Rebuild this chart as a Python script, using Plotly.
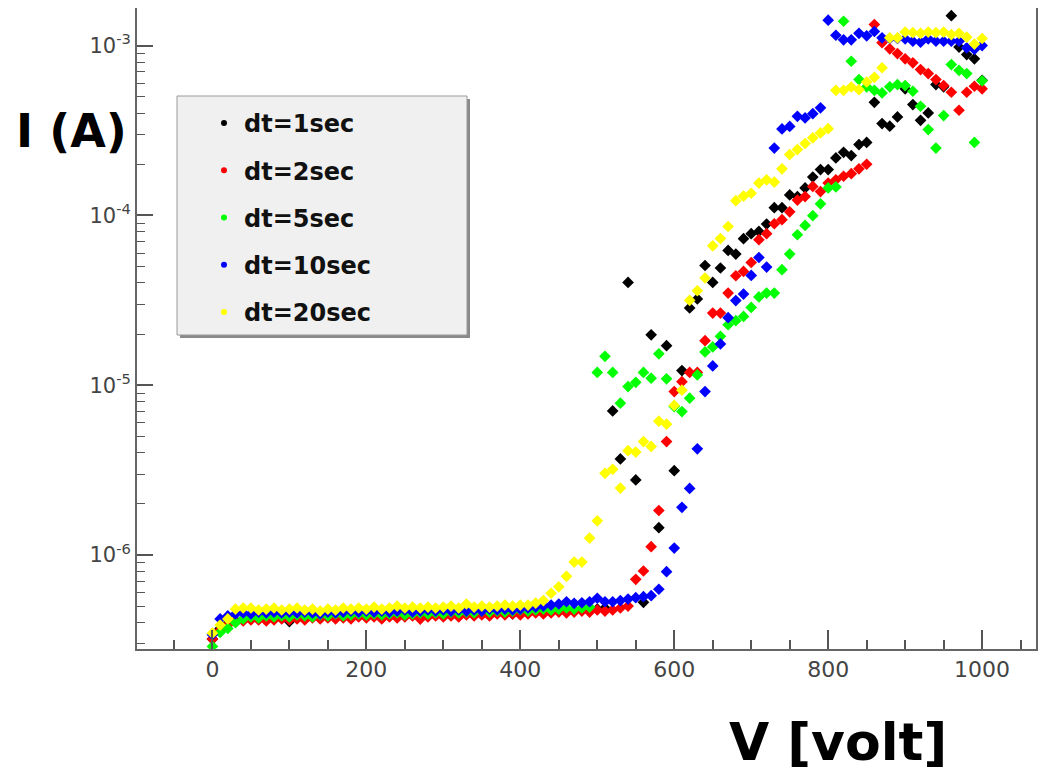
import plotly.graph_objects as go

voltage = list(range(0, 1001, 10))

i_dt1 = [3.2e-7, 3.7e-7, 3.95e-7, 4.1e-7, 4.21e-7, 4.32e-7, 4.26e-7, 4.38e-7, 4.32e-7, 4.26e-7,
         4.06e-7, 4.32e-7, 4.24e-7, 4.38e-7, 4.32e-7, 4.38e-7, 4.44e-7, 4.32e-7, 4.38e-7, 4.44e-7,
         4.38e-7, 4.44e-7, 4.5e-7, 4.38e-7, 4.5e-7, 4.44e-7, 4.5e-7, 4.44e-7, 4.5e-7, 4.56e-7,
         4.44e-7, 4.56e-7, 4.5e-7, 4.56e-7, 4.62e-7, 4.5e-7, 4.62e-7, 4.56e-7, 4.62e-7, 4.5e-7,
         4.56e-7, 4.62e-7, 4.68e-7, 4.62e-7, 4.68e-7, 4.75e-7, 4.68e-7, 4.75e-7, 4.81e-7, 4.75e-7,
         4.81e-7, 4.88e-7, 7.06e-6, 3.68e-6, 4.03e-5, 2.77e-6, 5.27e-7, 1.98e-5, 1.45e-6, 1.71e-5,
         3.14e-6, 1.22e-5, 2.85e-5, 3.22e-5, 5.07e-5, 4.03e-5, 4.9e-5, 6.22e-5, 5.92e-5, 7.29e-5,
         7.8e-5, 8.04e-5, 8.89e-5, 1.11e-4, 1.11e-4, 1.32e-4, 1.29e-4, 1.45e-4, 1.68e-4, 1.86e-4,
         1.86e-4, 2.18e-4, 2.35e-4, 2.25e-4, 2.61e-4, 2.69e-4, 4.63e-4, 3.47e-4, 3.35e-4, 3.8e-4,
         5.56e-4, 4.49e-4, 3.63e-4, 4.01e-4, 5.89e-4, 5.71e-4, 1.5e-3, 9.8e-4, 8.85e-4, 8.35e-4,
         6.24e-4]

i_dt2 = [3.2e-7, 3.61e-7, 3.87e-7, 4.04e-7, 4.09e-7, 4.15e-7, 4.15e-7, 4.09e-7, 4.15e-7, 4.21e-7,
         4.15e-7, 4.21e-7, 4.15e-7, 4.26e-7, 4.21e-7, 4.26e-7, 4.21e-7, 4.26e-7, 4.21e-7, 4.32e-7,
         4.26e-7, 4.32e-7, 4.21e-7, 4.32e-7, 4.26e-7, 4.32e-7, 4.38e-7, 4.2e-7, 4.32e-7, 4.38e-7,
         4.32e-7, 4.38e-7, 4.32e-7, 4.44e-7, 4.38e-7, 4.44e-7, 4.38e-7, 4.5e-7, 4.44e-7, 4.5e-7,
         4.44e-7, 4.5e-7, 4.56e-7, 4.5e-7, 4.56e-7, 4.62e-7, 4.56e-7, 4.62e-7, 4.68e-7, 4.62e-7,
         4.75e-7, 4.68e-7, 4.75e-7, 4.88e-7, 5.01e-7, 7.2e-7, 8.06e-7, 1.12e-6, 1.83e-6, 4.66e-6,
         9.18e-6, 1.05e-5, 1.19e-5, 1.19e-5, 1.83e-5, 2.66e-5, 2.66e-5, 3.49e-5, 4.41e-5, 4.68e-5,
         5.28e-5, 7.19e-5, 7.8e-5, 8.93e-5, 9.43e-5, 1.05e-4, 1.23e-4, 1.29e-4, 1.48e-4, 1.38e-4,
         1.55e-4, 1.62e-4, 1.7e-4, 1.76e-4, 1.88e-4, 2.0e-4, 1.33e-3, 1.04e-3, 9.56e-4, 8.97e-4,
         8.35e-4, 7.91e-4, 7.22e-4, 6.84e-4, 6.3e-4, 5.81e-4, 5.31e-4, 4.16e-4, 5.31e-4, 5.76e-4,
         5.56e-4]

i_dt5 = [2.9e-7, 3.5e-7, 3.7e-7, 4.0e-7, 4.21e-7, 4.32e-7, 4.26e-7, 4.38e-7, 4.32e-7, 4.38e-7,
         4.32e-7, 4.44e-7, 4.38e-7, 4.32e-7, 4.44e-7, 4.38e-7, 4.5e-7, 4.38e-7, 4.44e-7, 4.5e-7,
         4.44e-7, 4.5e-7, 4.44e-7, 4.5e-7, 4.56e-7, 4.44e-7, 4.5e-7, 4.56e-7, 4.5e-7, 4.56e-7,
         4.5e-7, 4.62e-7, 4.56e-7, 4.62e-7, 4.56e-7, 4.68e-7, 4.62e-7, 4.68e-7, 4.62e-7, 4.68e-7,
         4.75e-7, 4.68e-7, 4.75e-7, 4.81e-7, 4.75e-7, 4.81e-7, 4.88e-7, 4.81e-7, 4.88e-7, 4.94e-7,
         1.19e-5, 1.48e-5, 1.19e-5, 7.84e-6, 9.82e-6, 1.04e-5, 1.19e-5, 1.1e-5, 1.53e-5, 1.09e-5,
         7.49e-6, 7.0e-6, 8.39e-6, 1.15e-5, 1.57e-5, 1.68e-5, 1.94e-5, 2.27e-5, 2.4e-5, 2.54e-5,
         2.87e-5, 3.31e-5, 3.49e-5, 3.49e-5, 4.79e-5, 5.92e-5, 7.69e-5, 8.73e-5, 9.96e-5, 1.17e-4,
         1.45e-4, 1.47e-4, 1.39e-3, 8.08e-4, 6.3e-4, 5.71e-4, 5.45e-4, 5.26e-4, 5.71e-4, 5.89e-4,
         5.81e-4, 5.38e-4, 4.39e-4, 3.2e-4, 2.49e-4, 3.87e-4, 7.73e-4, 7.15e-4, 6.84e-4, 2.69e-4,
         6.2e-4]

i_dt10 = [3.4e-7, 4.21e-7, 4.38e-7, 4.5e-7, 4.56e-7, 4.5e-7, 4.62e-7, 4.56e-7, 4.62e-7, 4.56e-7,
          4.62e-7, 4.56e-7, 4.62e-7, 4.56e-7, 4.5e-7, 4.62e-7, 4.56e-7, 4.62e-7, 4.68e-7, 4.62e-7,
          4.68e-7, 4.62e-7, 4.68e-7, 4.62e-7, 4.68e-7, 4.75e-7, 4.62e-7, 4.68e-7, 4.75e-7, 4.68e-7,
          4.75e-7, 4.68e-7, 4.75e-7, 4.68e-7, 4.75e-7, 4.68e-7, 4.81e-7, 4.75e-7, 4.81e-7, 4.75e-7,
          4.81e-7, 4.88e-7, 4.94e-7, 5.01e-7, 5.08e-7, 5.15e-7, 5.31e-7, 5.2e-7, 5.24e-7, 5.31e-7,
          5.57e-7, 5.31e-7, 5.31e-7, 5.4e-7, 5.51e-7, 5.61e-7, 5.69e-7, 5.77e-7, 6.29e-7, 7.98e-7,
          1.1e-6, 1.91e-6, 2.47e-6, 4.22e-6, 9.18e-6, 1.3e-5, 1.75e-5, 2.5e-5, 3.15e-5, 3.44e-5,
          4.43e-5, 5.65e-5, 4.96e-5, 2.49e-4, 3.23e-4, 3.34e-4, 3.83e-4, 3.75e-4, 3.97e-4, 4.3e-4,
          1.41e-3, 1.15e-3, 1.08e-3, 1.08e-3, 1.18e-3, 1.14e-3, 1.21e-3, 1.11e-3, 1.1e-3, 1.1e-3,
          1.095e-3, 1.06e-3, 1.046e-3, 1.095e-3, 1.06e-3, 1.06e-3, 1.06e-3, 1.06e-3, 9.7e-4, 9.5e-4,
          1.0e-3]

i_dt20 = [3.47e-7, 3.87e-7, 4.21e-7, 4.81e-7, 4.88e-7, 4.88e-7, 4.75e-7, 4.81e-7, 4.88e-7, 4.75e-7,
          4.81e-7, 4.88e-7, 4.75e-7, 4.81e-7, 4.68e-7, 4.81e-7, 4.75e-7, 4.88e-7, 4.81e-7, 4.88e-7,
          4.81e-7, 4.94e-7, 4.81e-7, 4.88e-7, 5.01e-7, 4.88e-7, 4.94e-7, 4.88e-7, 4.94e-7, 4.88e-7,
          4.94e-7, 5.01e-7, 4.88e-7, 5.15e-7, 4.94e-7, 5.01e-7, 4.94e-7, 5.01e-7, 5.08e-7, 5.01e-7,
          5.08e-7, 5.08e-7, 5.22e-7, 5.4e-7, 5.96e-7, 6.5e-7, 7.5e-7, 9.1e-7, 9.1e-7, 1.26e-6,
          1.59e-6, 3.03e-6, 3.2e-6, 2.48e-6, 4.12e-6, 4.04e-6, 4.66e-6, 4.36e-6, 6.14e-6, 5.9e-6,
          7.6e-6, 9.35e-6, 3.16e-5, 3.6e-5, 4.28e-5, 6.62e-5, 7.3e-5, 8.6e-5, 1.22e-4, 1.3e-4,
          1.35e-4, 1.55e-4, 1.62e-4, 1.57e-4, 1.88e-4, 2.28e-4, 2.44e-4, 2.65e-4, 2.86e-4, 3.06e-4,
          3.24e-4, 5.45e-4, 5.45e-4, 5.7e-4, 5.5e-4, 6.1e-4, 6.5e-4, 7.4e-4, 1.11e-3, 1.11e-3,
          1.2e-3, 1.19e-3, 1.18e-3, 1.2e-3, 1.19e-3, 1.2e-3, 1.16e-3, 1.18e-3, 1.12e-3, 1.02e-3,
          1.1e-3]

series_names = ["dt=1sec", "dt=2sec", "dt=5sec", "dt=10sec", "dt=20sec"]
series_values = [i_dt1, i_dt2, i_dt5, i_dt10, i_dt20]
series_colors = ["#000000", "#ff0000", "#00ff00", "#0000ff", "#ffff00"]

x_ticks = [0, 200, 400, 600, 800, 1000]
y_ticks = [1e-6, 1e-5, 1e-4, 1e-3]
y_tick_text = ["10<sup>-6</sup>", "10<sup>-5</sup>", "10<sup>-4</sup>", "10<sup>-3</sup>"]
y_minor = [m * 10.0 ** e for e in (-7, -6, -5, -4, -3) for m in range(2, 10)]

fig = go.Figure()

for name, vals, col in zip(series_names, series_values, series_colors):
    fig.add_trace(go.Scatter(
        x=voltage, y=vals, mode="markers", name=name, showlegend=False,
        marker=dict(symbol="diamond", size=9, color=col, line=dict(width=0)),
    ))

# legend entries (small dots, as in the original legend)
for k, (name, col) in enumerate(zip(series_names, series_colors)):
    fig.add_trace(go.Scatter(
        x=[None], y=[None], mode="markers", name=name, legendgroup=f"g{k}",
        marker=dict(symbol="circle", size=6, color=col),
    ))

# the page has an 8px body margin: the figure is sized so that the
# plot frame lands where the reference frame is in the 1046x784 window
OFF = 8
W, H = 1046 - OFF, 784 - OFF
ml, mr, mt, mb = 137 - OFF, 10, 8 - OFF, 135
pw, ph = W - ml - mr, H - mt - mb

def px2paper(x, y):
    # page pixel -> paper fraction
    fx, fy = x - OFF, y - OFF
    return (fx - ml) / pw, (H - mb - fy) / ph

# legend box
bx0, by0 = px2paper(177, 335)
bx1, by1 = px2paper(467, 96)
sx0, sy0 = px2paper(180, 338)
sx1, sy1 = px2paper(470, 99)
shapes = [
    dict(type="rect", xref="paper", yref="paper", x0=sx0, y0=sy0, x1=sx1, y1=sy1,
         fillcolor="#8a8a8a", line=dict(width=0), layer="above"),
    dict(type="rect", xref="paper", yref="paper", x0=bx0, y0=by0, x1=bx1, y1=by1,
         fillcolor="#f0f0f0", line=dict(color="#9a9a9a", width=1), layer="above"),
]

lx, ly = px2paper(204, 101)
ax_i, ay_i = px2paper(71, 131)
ax_v, ay_v = px2paper(838, 742)

fig.update_layout(
    width=W, height=H,
    margin=dict(l=ml, r=mr, t=mt, b=mb, pad=0, autoexpand=False),
    paper_bgcolor="white", plot_bgcolor="white",
    shapes=shapes,
    showlegend=True,
    legend=dict(
        x=lx, y=ly, xanchor="left", yanchor="top",
        bgcolor="rgba(0,0,0,0)", borderwidth=0,
        font=dict(family="DejaVu Sans", size=24, color="#111111", weight="bold"),
        tracegroupgap=13, traceorder="grouped",
    ),
    xaxis=dict(
        range=[-98, 1070], tickvals=x_ticks, ticktext=[str(v) for v in x_ticks],
        ticks="inside", ticklen=19, tickwidth=1.5, tickcolor="#555555",
        minor=dict(dtick=50, tick0=0, ticks="inside", ticklen=9, tickwidth=1.5,
                   tickcolor="#555555", showgrid=False),
        showgrid=False, zeroline=False, automargin=False,
        showline=True, linecolor="#666666", linewidth=2, mirror=True,
        tickfont=dict(family="DejaVu Sans", size=22, color="#444444"),
    ),
    yaxis=dict(
        type="log", range=[-6.553, -2.779],
        tickmode="array", tickvals=y_ticks, ticktext=y_tick_text,
        ticks="inside", ticklen=16, tickwidth=1.5, tickcolor="#555555",
        minor=dict(tickmode="array", tickvals=y_minor, ticks="inside", ticklen=8,
                   tickwidth=1.2, tickcolor="#555555", showgrid=False),
        showgrid=False, zeroline=False, automargin=False,
        showline=True, linecolor="#666666", linewidth=2, mirror=True,
        tickfont=dict(family="DejaVu Sans", size=21, color="#444444"),
    ),
    annotations=[
        dict(text="I (A)", xref="paper", yref="paper", x=ax_i, y=ay_i,
             xanchor="center", yanchor="middle", showarrow=False,
             font=dict(family="DejaVu Sans", size=46, color="black", weight="bold")),
        dict(text="V [volt]", xref="paper", yref="paper", x=ax_v, y=ay_v,
             xanchor="center", yanchor="middle", showarrow=False,
             font=dict(family="DejaVu Sans", size=52, color="black", weight="bold")),
    ],
)

fig.write_html("out.html")
